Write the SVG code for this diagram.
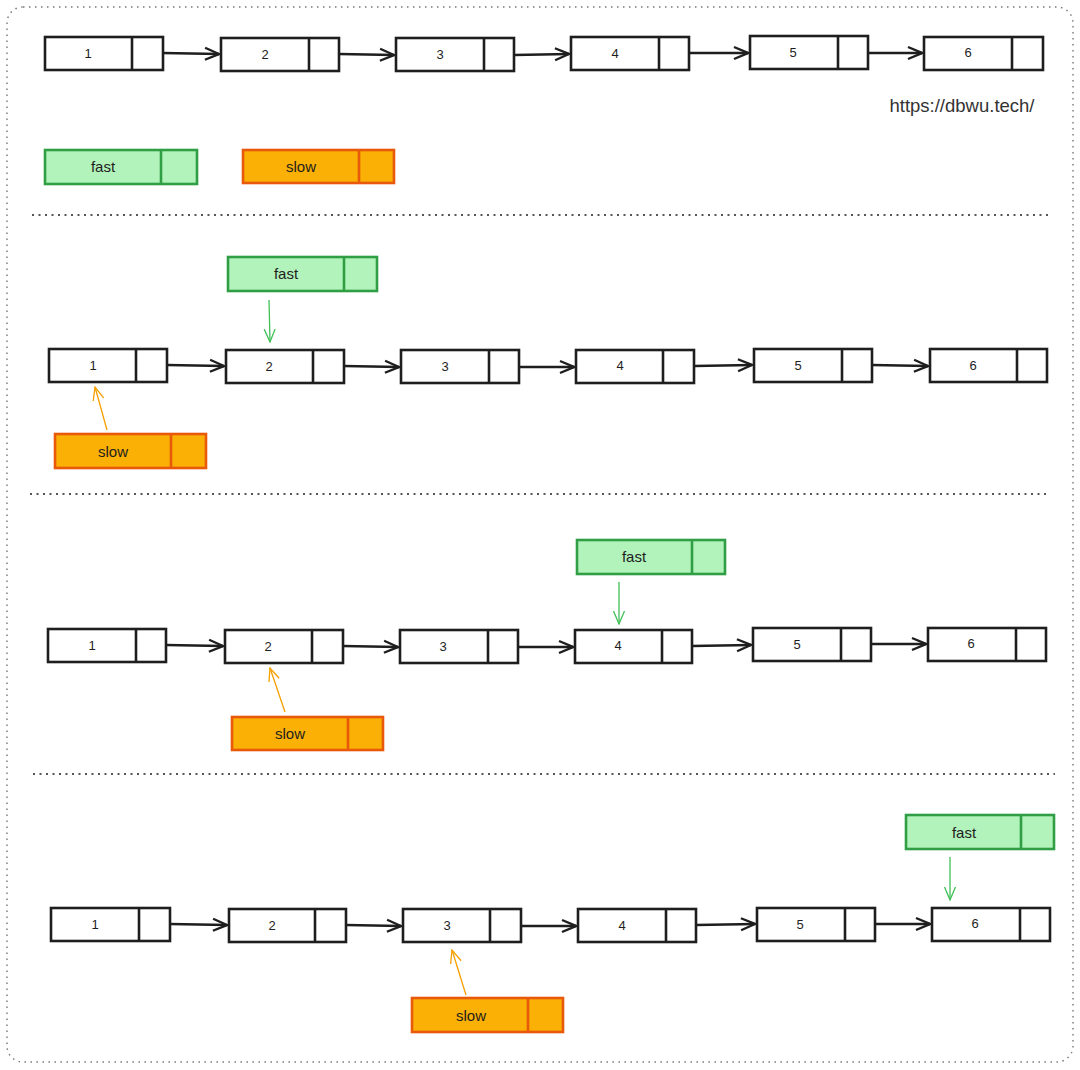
<svg xmlns="http://www.w3.org/2000/svg" width="1080" height="1070" viewBox="0 0 1080 1070">
<defs>
<style>
.box{fill:#fff;stroke:#1e1e1e;stroke-width:2.6}
.div{stroke:#1e1e1e;stroke-width:2.6}
.fb{fill:#b2f2bb;stroke:#2f9e44;stroke-width:2.6}
.fd{stroke:#2f9e44;stroke-width:2.6}
.sb{fill:#fab005;stroke:#e8590c;stroke-width:2.6}
.sd{stroke:#e8590c;stroke-width:2.6}
.lbl{font-family:"Liberation Sans",sans-serif;font-size:13px;fill:#1e1e1e;text-anchor:middle;dominant-baseline:central}
.plbl{font-family:"Liberation Sans",sans-serif;font-size:15px;fill:#1e1e1e;text-anchor:middle;dominant-baseline:central}
.conn{stroke:#1e1e1e;stroke-width:2.4;fill:none;marker-end:url(#ah)}
.gp{stroke:#40c057;stroke-width:1.3;fill:none;marker-end:url(#ag)}
.op{stroke:#f59f00;stroke-width:1.3;fill:none;marker-end:url(#ao)}
.sep{stroke:#1e1e1e;stroke-width:1.6;stroke-dasharray:2 4.5}
</style>
<marker id="ah" viewBox="0 0 16 16" refX="15" refY="8" markerWidth="16" markerHeight="16" markerUnits="userSpaceOnUse" orient="auto">
<path d="M1 2 L15 8 L1 14" fill="none" stroke="#1e1e1e" stroke-width="2.4"/>
</marker>
<marker id="ag" viewBox="0 0 14 16" refX="13" refY="8" markerWidth="14" markerHeight="16" markerUnits="userSpaceOnUse" orient="auto">
<path d="M0 2.5 L13 8 L0 13.5" fill="none" stroke="#40c057" stroke-width="1.3"/>
</marker>
<marker id="ao" viewBox="0 0 14 16" refX="13" refY="8" markerWidth="14" markerHeight="16" markerUnits="userSpaceOnUse" orient="auto">
<path d="M0 2.5 L13 8 L0 13.5" fill="none" stroke="#f59f00" stroke-width="1.3"/>
</marker>
</defs>
<rect x="0" y="0" width="1080" height="1070" fill="#fff"/>
<rect x="7" y="7" width="1066" height="1055" rx="16" fill="none" stroke="#777" stroke-width="1.4" stroke-dasharray="1.5 4.5"/>
<g id="separators">
<line class="sep" x1="32" y1="215" x2="1052" y2="215"/>
<line class="sep" x1="30" y1="494" x2="1050" y2="494"/>
<line class="sep" x1="33" y1="774" x2="1055" y2="774"/>
</g>
<text x="962" y="105" font-family="'Liberation Sans',sans-serif" font-size="18.5" fill="#333" text-anchor="middle" dominant-baseline="central">https://dbwu.tech/</text>

<!-- Row 1 -->
<g id="r1n1"><rect class="box" x="45" y="37" width="118" height="33"/><line class="div" x1="132" y1="37" x2="132" y2="70"/><text class="lbl" x="88" y="53">1</text></g>
<g id="r1n2"><rect class="box" x="221" y="38" width="118" height="33"/><line class="div" x1="309" y1="38" x2="309" y2="71"/><text class="lbl" x="265" y="54">2</text></g>
<g id="r1n3"><rect class="box" x="396" y="38" width="118" height="33"/><line class="div" x1="484" y1="38" x2="484" y2="71"/><text class="lbl" x="440" y="54">3</text></g>
<g id="r1n4"><rect class="box" x="571" y="37" width="118" height="33"/><line class="div" x1="659" y1="37" x2="659" y2="70"/><text class="lbl" x="615" y="53">4</text></g>
<g id="r1n5"><rect class="box" x="750" y="36" width="118" height="33"/><line class="div" x1="838" y1="36" x2="838" y2="69"/><text class="lbl" x="793" y="52">5</text></g>
<g id="r1n6"><rect class="box" x="924" y="37" width="119" height="33"/><line class="div" x1="1012" y1="37" x2="1012" y2="70"/><text class="lbl" x="968" y="52">6</text></g>
<g id="legend-fast"><rect class="fb" x="45" y="150" width="152" height="34"/><line class="fd" x1="161" y1="150" x2="161" y2="184"/><text class="plbl" x="103" y="166">fast</text></g>
<g id="legend-slow"><rect class="sb" x="243" y="150" width="151" height="33"/><line class="sd" x1="359" y1="150" x2="359" y2="183"/><text class="plbl" x="301" y="166">slow</text></g>

<!-- Row 2 -->
<g id="r2n1"><rect class="box" x="49" y="349" width="118" height="33"/><line class="div" x1="136" y1="349" x2="136" y2="382"/><text class="lbl" x="93" y="365">1</text></g>
<g id="r2n2"><rect class="box" x="226" y="350" width="118" height="33"/><line class="div" x1="313" y1="350" x2="313" y2="383"/><text class="lbl" x="269" y="366">2</text></g>
<g id="r2n3"><rect class="box" x="401" y="350" width="118" height="33"/><line class="div" x1="489" y1="350" x2="489" y2="383"/><text class="lbl" x="445" y="366">3</text></g>
<g id="r2n4"><rect class="box" x="576" y="350" width="118" height="33"/><line class="div" x1="663" y1="350" x2="663" y2="383"/><text class="lbl" x="620" y="365">4</text></g>
<g id="r2n5"><rect class="box" x="754" y="349" width="118" height="33"/><line class="div" x1="842" y1="349" x2="842" y2="382"/><text class="lbl" x="798" y="365">5</text></g>
<g id="r2n6"><rect class="box" x="930" y="349" width="117" height="33"/><line class="div" x1="1017" y1="349" x2="1017" y2="382"/><text class="lbl" x="973" y="365">6</text></g>
<g id="s2-fast"><rect class="fb" x="228" y="257" width="149" height="34"/><line class="fd" x1="344" y1="257" x2="344" y2="291"/><text class="plbl" x="286" y="273">fast</text></g>
<g id="s2-slow"><rect class="sb" x="55" y="434" width="151" height="34"/><line class="sd" x1="171" y1="434" x2="171" y2="468"/><text class="plbl" x="113" y="451">slow</text></g>

<!-- Row 3 -->
<g id="r3n1"><rect class="box" x="48" y="629" width="118" height="33"/><line class="div" x1="136" y1="629" x2="136" y2="662"/><text class="lbl" x="92" y="645">1</text></g>
<g id="r3n2"><rect class="box" x="225" y="630" width="118" height="33"/><line class="div" x1="312" y1="630" x2="312" y2="663"/><text class="lbl" x="268" y="646">2</text></g>
<g id="r3n3"><rect class="box" x="400" y="630" width="118" height="33"/><line class="div" x1="488" y1="630" x2="488" y2="663"/><text class="lbl" x="443" y="646">3</text></g>
<g id="r3n4"><rect class="box" x="575" y="630" width="117" height="33"/><line class="div" x1="662" y1="630" x2="662" y2="663"/><text class="lbl" x="618" y="645">4</text></g>
<g id="r3n5"><rect class="box" x="753" y="628" width="118" height="33"/><line class="div" x1="841" y1="628" x2="841" y2="661"/><text class="lbl" x="797" y="644">5</text></g>
<g id="r3n6"><rect class="box" x="928" y="628" width="118" height="33"/><line class="div" x1="1016" y1="628" x2="1016" y2="661"/><text class="lbl" x="971" y="643">6</text></g>
<g id="s3-fast"><rect class="fb" x="577" y="540" width="148" height="34"/><line class="fd" x1="692" y1="540" x2="692" y2="574"/><text class="plbl" x="634" y="556">fast</text></g>
<g id="s3-slow"><rect class="sb" x="232" y="717" width="151" height="33"/><line class="sd" x1="348" y1="717" x2="348" y2="750"/><text class="plbl" x="290" y="733">slow</text></g>

<!-- Row 4 -->
<g id="r4n1"><rect class="box" x="51" y="908" width="119" height="33"/><line class="div" x1="139" y1="908" x2="139" y2="941"/><text class="lbl" x="95" y="924">1</text></g>
<g id="r4n2"><rect class="box" x="229" y="909" width="117" height="33"/><line class="div" x1="315" y1="909" x2="315" y2="942"/><text class="lbl" x="272" y="925">2</text></g>
<g id="r4n3"><rect class="box" x="403" y="909" width="118" height="33"/><line class="div" x1="490" y1="909" x2="490" y2="942"/><text class="lbl" x="447" y="925">3</text></g>
<g id="r4n4"><rect class="box" x="578" y="909" width="118" height="33"/><line class="div" x1="666" y1="909" x2="666" y2="942"/><text class="lbl" x="622" y="925">4</text></g>
<g id="r4n5"><rect class="box" x="757" y="908" width="118" height="33"/><line class="div" x1="845" y1="908" x2="845" y2="941"/><text class="lbl" x="800" y="924">5</text></g>
<g id="r4n6"><rect class="box" x="932" y="908" width="118" height="33"/><line class="div" x1="1020" y1="908" x2="1020" y2="941"/><text class="lbl" x="975" y="923">6</text></g>
<g id="s4-fast"><rect class="fb" x="906" y="815" width="148" height="34"/><line class="fd" x1="1021" y1="815" x2="1021" y2="849"/><text class="plbl" x="964" y="832">fast</text></g>
<g id="s4-slow"><rect class="sb" x="412" y="998" width="151" height="34"/><line class="sd" x1="528" y1="998" x2="528" y2="1032"/><text class="plbl" x="471" y="1015">slow</text></g>

<g id="connectors">
<path class="conn" d="M163 53 L219 54"/>
<path class="conn" d="M339 54 L394 55"/>
<path class="conn" d="M514 55 L569 54"/>
<path class="conn" d="M689 53 L748 53"/>
<path class="conn" d="M868 53 L922 53"/>

<path class="conn" d="M167 365 L224 366"/>
<path class="conn" d="M344 366 L399 367"/>
<path class="conn" d="M519 367 L574 367"/>
<path class="conn" d="M694 366 L752 365"/>
<path class="conn" d="M872 365 L928 366"/>

<path class="conn" d="M166 645 L223 646"/>
<path class="conn" d="M343 646 L398 647"/>
<path class="conn" d="M518 647 L573 647"/>
<path class="conn" d="M692 646 L751 645"/>
<path class="conn" d="M871 644 L926 644"/>

<path class="conn" d="M170 924 L227 925"/>
<path class="conn" d="M346 925 L401 926"/>
<path class="conn" d="M521 926 L576 926"/>
<path class="conn" d="M696 925 L755 924"/>
<path class="conn" d="M875 924 L930 924"/>

<path class="gp" d="M269 300 L270 342"/>
<path class="op" d="M107 430 L95 387"/>
<path class="gp" d="M619 582 L619 624"/>
<path class="op" d="M285 712 L270 668"/>
<path class="gp" d="M950 857 L950 900"/>
<path class="op" d="M466 995 L452 950"/>
</g>
</svg>
